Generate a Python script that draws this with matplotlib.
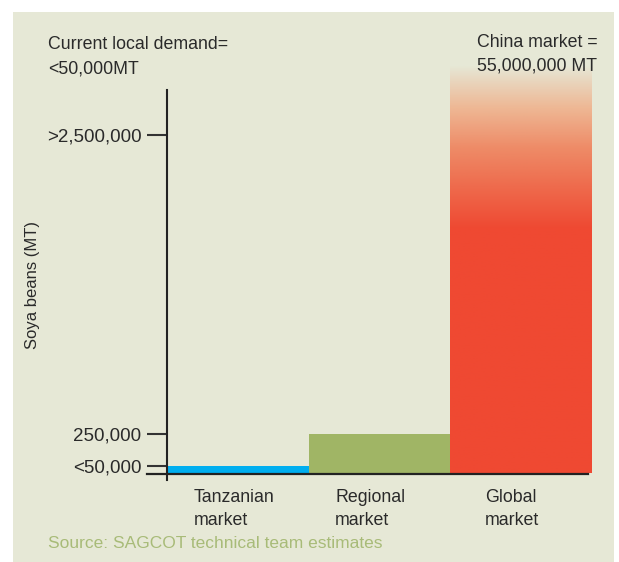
import numpy as np
import matplotlib.pyplot as plt
from matplotlib.colors import LinearSegmentedColormap

plt.rcParams.update({
	'font.family': ['Liberation Sans', 'DejaVu Sans'],
	'font.size': 12,
	'text.color': '#2a2a2a',
})

# data
categories = ['Tanzanian\nmarket', 'Regional\nmarket', 'Global\nmarket']
values = [50000, 250000, 55000000]
bar_colors = ['#00aeef', '#a0b565', '#ef4932']
tick_values = [50000, 250000, 2500000]
tick_labels = ['<50,000', '250,000', '>2,500,000']

bg = '#e6e8d6'
W, H = 619, 562

# broken-looking scale: data -> pixels above the baseline
knots_v = [0, 50000, 250000, 2500000, 55000000, 1e8]
knots_p = [0, 6.7, 38.7, 337.7, 407.7, 430]

def fwd(v):
	return np.interp(v, knots_v, knots_p)

def inv(p):
	return np.interp(p, knots_p, knots_v)

fig = plt.figure(figsize=(W / 100, H / 100), dpi=100)
fig.patch.set_facecolor('white')
# beige panel
fig.patches.append(plt.Rectangle((13 / W, 0), 601 / W, (H - 12) / H, transform=fig.transFigure,
	facecolor=bg, edgecolor='none', zorder=-10))

base_y = 472.7
ax_top = 60
ax = fig.add_axes([167 / W, (H - base_y) / H, 425 / W, (base_y - ax_top) / H])
ax.set_facecolor('none')
ax.set_yscale('function', functions=(fwd, inv))
ax.set_xlim(-0.5, 2.5)
ax.set_ylim(0, inv(base_y - ax_top))

x = np.arange(len(categories))
bars = ax.bar(x, values, width=1.0, color=bar_colors, linewidth=0, zorder=2)

# gradient on the global bar, fading into the background
red_bar = bars[2]
red_bar.set_facecolor('none')
cmap = LinearSegmentedColormap.from_list('fade', [
	(0.0, '#ef4932'),
	(0.60, '#ef4932'),
	(0.70, '#ee6a4c'),
	(0.80, '#ee8c68'),
	(0.90, '#eeb996'),
	(0.96, '#e9d4bc'),
	(1.0, bg),
])
grad = np.linspace(0, 1, 256).reshape(-1, 1)
img = ax.imshow(grad, cmap=cmap, aspect='auto', origin='lower',
	extent=[0, 1, 0, (base_y - 65) / (base_y - ax_top)], transform=ax.transAxes, zorder=1)
img.set_clip_path(red_bar)

for s in ax.spines.values():
	s.set_visible(False)
axh = base_y - ax_top
ax.plot([0, 0], [-7.5 / axh, (base_y - 90) / axh], color='#222222', lw=1.5,
	transform=ax.transAxes, clip_on=False, zorder=3)
ax.plot([-20 / 425, 421 / 425], [-0.8 / axh, -0.8 / axh], color='#222222', lw=1.6,
	transform=ax.transAxes, clip_on=False, zorder=3)

ax.set_yticks(tick_values)
ax.set_yticklabels(tick_labels)
ax.tick_params(axis='y', length=14.4, width=1.5, color='#333333', pad=4, labelsize=13.5,
	labelcolor='#2a2a2a')
ax.tick_params(axis='x', bottom=False, labelbottom=False)

# category labels under bars
label_offsets = [-0.31, -0.314, -0.256]
for i, lab in enumerate(categories):
	ax.text(x[i] + label_offsets[i], -16 / axh, lab, transform=ax.get_xaxis_transform(),
		ha='left', va='top', fontsize=12.8, linespacing=1.5)

fig.text(32 / W, 1 - 285 / H, 'Soya beans (MT)', rotation=90, ha='center', va='center', fontsize=12)
fig.text(48 / W, 1 - 36 / H, 'Current local demand=\n<50,000MT', ha='left', va='top',
	fontsize=12.8, linespacing=1.6)
fig.text(477 / W, 1 - 34 / H, 'China market =\n55,000,000 MT', ha='left', va='top',
	fontsize=12.8, linespacing=1.5)
fig.text(48 / W, 1 - 543 / H, 'Source: SAGCOT technical team estimates', ha='left', va='center',
	fontsize=12.5, color='#a8bb78')

fig.savefig('out.png', dpi=100, facecolor=fig.get_facecolor())
